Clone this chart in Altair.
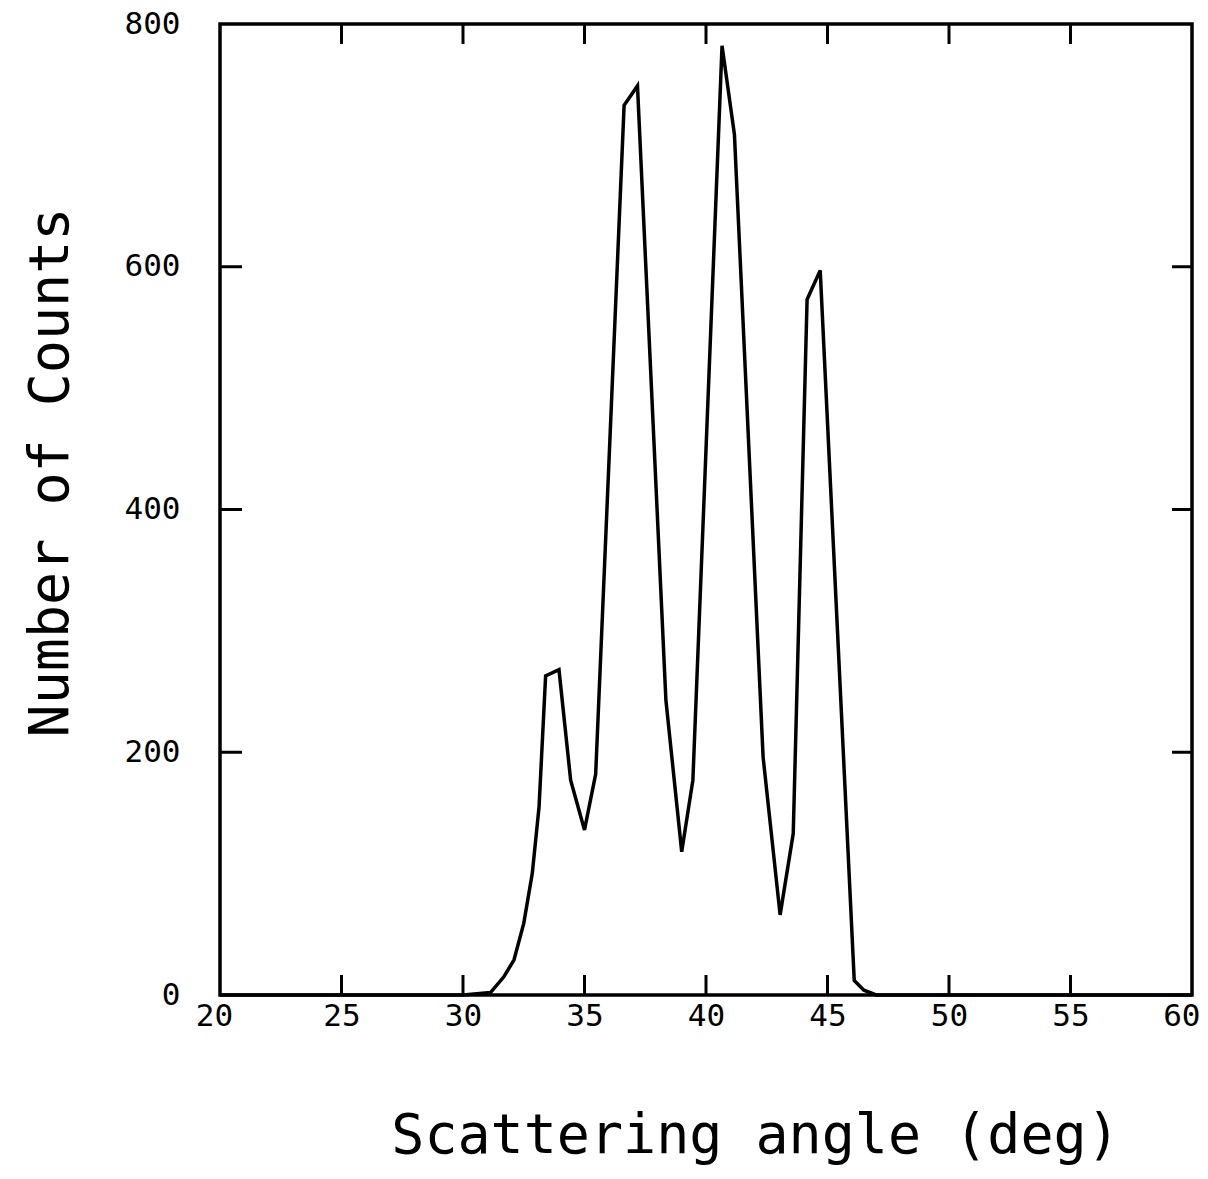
import altair as alt
import pandas as pd

# Scattering angle (deg) and number of counts
angle = [20.0, 30.0, 31.13, 31.68, 32.1, 32.5, 32.85, 33.13, 33.4, 33.95, 34.43,
         35.0, 35.46, 36.63, 37.18, 38.35, 39.0, 39.46, 40.66, 41.17, 42.35,
         43.05, 43.59, 44.16, 44.7, 46.1, 46.5, 47.0, 60.0]
counts = [0, 0, 2, 15, 29, 59, 100, 155, 263, 268, 177,
          136, 182, 733, 749, 243, 118, 177, 782, 709, 196,
          66, 133, 573, 597, 12, 4, 0, 0]

x_ticks = [20, 25, 30, 35, 40, 45, 50, 55, 60]
y_ticks = [0, 200, 400, 600, 800]
x_inner_ticks = [25, 30, 35, 40, 45, 50, 55]
y_inner_ticks = [200, 400, 600]

W, H = 972, 971
MONO = "DejaVu Sans Mono"

df = pd.DataFrame({"angle": angle, "counts": counts})
xt = pd.DataFrame({"t": x_inner_ticks})
yt = pd.DataFrame({"t": y_inner_ticks})

xscale = alt.Scale(domain=[20, 60], nice=False, zero=False)
yscale = alt.Scale(domain=[0, 800], nice=False)

line = alt.Chart(df).mark_line(color="black", strokeWidth=3.5).encode(
    x=alt.X("angle:Q", scale=xscale,
            axis=alt.Axis(values=x_ticks, ticks=False, domain=False, grid=False,
                          labelFont=MONO, labelFontSize=31, labelColor="black",
                          labelPadding=6, labelFlush=False,
                          labelAlign=alt.ExprRef("datum.value == 60 ? 'right' : 'center'"),
                          labelOffset=alt.ExprRef("datum.value == 60 ? 8 : (datum.value == 20 ? -6 : 0)"),
                          title="Scattering angle (deg)", titleFont=MONO,
                          titleFontSize=55, titleFontWeight="normal", titleColor="black",
                          titleX=535, titleY=140, titleAlign="center",
                          titleBaseline="middle")),
    y=alt.Y("counts:Q", scale=yscale,
            axis=alt.Axis(values=y_ticks, ticks=False, domain=False, grid=False,
                          labelFont=MONO, labelFontSize=31, labelColor="black",
                          labelPadding=40, labelFlush=False,
                          title="Number of Counts", titleFont=MONO,
                          titleFontSize=55, titleFontWeight="normal", titleColor="black",
                          titleX=-170, titleY=448, titleAlign="center",
                          titleBaseline="middle", titleAngle=270)),
)

tick_style = dict(color="black", strokeWidth=3)

bottom_ticks = alt.Chart(xt).mark_rule(**tick_style).encode(
    x=alt.X("t:Q", scale=xscale), y=alt.value(H), y2=alt.value(H - 20))
top_ticks = alt.Chart(xt).mark_rule(**tick_style).encode(
    x=alt.X("t:Q", scale=xscale), y=alt.value(0), y2=alt.value(20))
left_ticks = alt.Chart(yt).mark_rule(**tick_style).encode(
    y=alt.Y("t:Q", scale=yscale), x=alt.value(0), x2=alt.value(22))
right_ticks = alt.Chart(yt).mark_rule(**tick_style).encode(
    y=alt.Y("t:Q", scale=yscale), x=alt.value(W), x2=alt.value(W - 20))

chart = alt.layer(line, bottom_ticks, top_ticks, left_ticks, right_ticks).properties(
    width=W, height=H,
    autosize=alt.AutoSizeParams(type="none"),
    padding={"left": 220, "top": 24, "right": 16, "bottom": 184},
    background="white",
).configure_view(stroke="black", strokeWidth=3.5)

chart.save("out.html", embed_options={"renderer": "svg", "actions": False})
